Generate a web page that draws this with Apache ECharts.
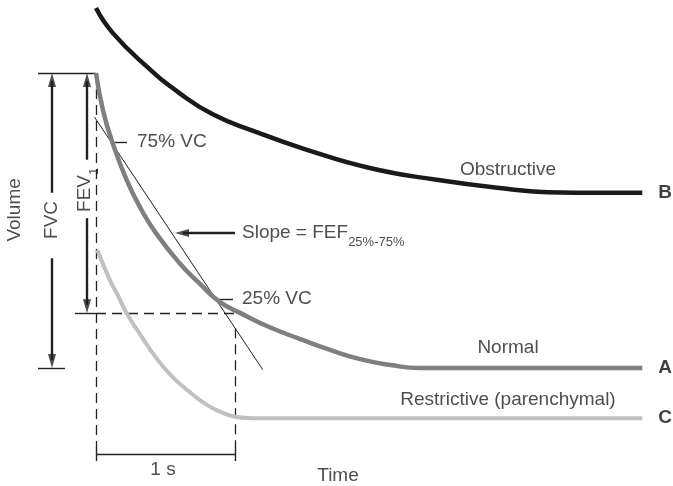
<!DOCTYPE html>
<html><head><meta charset="utf-8">
<script src="https://cdn.jsdelivr.net/npm/echarts@6/dist/echarts.min.js"></script>
<style>html,body{margin:0;padding:0;background:#fff}#c{width:673px;height:486px}</style>
</head><body><div id="c"></div>
<script>
// ---- Data (time in s, volume in L above residual level of the normal curve) ----
const normal = [[0,5.00],[0.05,4.37],[0.12,3.81],[0.22,3.19],[0.32,2.71],[0.43,2.29],[0.60,1.78],[0.75,1.42],[0.89,1.12],[1.04,0.93],[1.25,0.69],[1.47,0.49],[1.68,0.31],[1.90,0.15],[2.12,0.05],[2.33,0.0],[3.93,0.0]];
const obstructive = [[0,6.10],[0.12,5.68],[0.37,5.10],[0.60,4.66],[0.84,4.30],[1.13,4.02],[1.49,3.72],[1.97,3.39],[2.45,3.19],[2.98,3.03],[3.25,2.98],[3.63,2.97],[3.93,2.97]];
const restrictive = [[0.01,2.00],[0.10,1.49],[0.16,1.22],[0.22,0.93],[0.32,0.56],[0.44,0.15],[0.55,-0.15],[0.68,-0.42],[0.80,-0.63],[0.91,-0.76],[1.01,-0.83],[1.13,-0.85],[3.93,-0.85]];
const tangent = [[-0.01,4.25],[1.20,-0.03]];
const fvcTop = 5.0, fvcBottom = 0.0, fev1Level = 0.93, oneSecond = 1.0;
const vc75 = 3.83, vc25 = 1.17, slopeLevel = 2.29;

// ---- Layout (pixel scale of the drawing) ----
const W = 673, H = 486, X0 = 96, Y0 = 368, PXS = 139, PXL = 59;
const dx = p => p / PXS, dy = p => p / PXL;
const INK = '#222';
const FONT = 'Liberation Sans, Arial, Helvetica, sans-serif';

const tFVC = -dx(44), tFEV = -dx(9), tTickL = -dx(58);
const dashed = [
  [[0, fvcTop], [0, -dy(79)]],
  [[0, fev1Level], [oneSecond, fev1Level]],
  [[oneSecond, fev1Level - dy(15)], [oneSecond, -dy(79)]]
];
const ticks = [
  [[tTickL, fvcTop], [0, fvcTop]],
  [[tTickL, fvcBottom], [-dx(31), fvcBottom]],
  [[-dx(21), fev1Level], [0, fev1Level]],
  [[dx(19), vc75], [dx(31), vc75]],
  [[oneSecond - dx(17), vc25], [oneSecond - dx(2), vc25]],
  [[0, -dy(86)], [oneSecond, -dy(86)]],
  [[0, -dy(79)], [0, -dy(93)]],
  [[oneSecond, -dy(79)], [oneSecond, -dy(93)]]
];
const shafts = [
  [[tFVC, fvcTop - dy(8)], [tFVC, 2.97]],
  [[tFVC, 1.86], [tFVC, fvcBottom + dy(8)]],
  [[tFEV, fvcTop - dy(8)], [tFEV, 3.53]],
  [[tFEV, 2.54], [tFEV, fev1Level + dy(8)]],
  [[dx(79) + dx(8), slopeLevel], [oneSecond, slopeLevel]]
];
// arrow tips: [t, v, direction]
const tips = [
  [tFVC, fvcTop, 'up'], [tFVC, fvcBottom, 'down'],
  [tFEV, fvcTop, 'up'], [tFEV, fev1Level, 'down'],
  [dx(79), slopeLevel, 'left']
];
const AL = 14, AW = 8;
const arrowData = tips.map(([t, v, d]) => {
  if (d === 'up') return { value: [t, v - dy(AL / 2)], symbolRotate: 0 };
  if (d === 'down') return { value: [t, v + dy(AL / 2)], symbolRotate: 180 };
  return { value: [t + dx(AL / 2), v], symbolRotate: 90 };
});

const labels = [
  { txt: 'Volume', value: [-dx(81), 2.68], rotate: 90, align: 'center' },
  { txt: 'FVC', value: [tFVC, 2.51], rotate: 90, align: 'center' },
  { txt: '{m|FEV}{s|1}', value: [tFEV, 3.02], rotate: 90, align: 'center' },
  { txt: '75% VC', value: [dx(41), vc75], align: 'left' },
  { txt: '25% VC', value: [oneSecond + dx(7), vc25], align: 'left' },
  { txt: '{m|Slope = FEF}{s|25%-75%}', value: [oneSecond + dx(7), slopeLevel], align: 'left', offset: [0, 2] },
  { txt: 'Obstructive', value: [dx(412), 3.36], align: 'center' },
  { txt: 'Normal', value: [dx(412), 0.34], align: 'center' },
  { txt: 'Restrictive (parenchymal)', value: [dx(412), -0.53], align: 'center' },
  { txt: '{b|B}', value: [dx(569), 2.97], align: 'center' },
  { txt: '{b|A}', value: [dx(569), 0.0], align: 'center' },
  { txt: '{b|C}', value: [dx(569), -0.85], align: 'center' },
  { txt: '1 s', value: [dx(67), -dy(102)], align: 'center' },
  { txt: 'Time', value: [dx(242), -dy(108)], align: 'center' }
];

const segs = (list) => list.map(c => ({ coords: c }));
const chart = echarts.init(document.getElementById('c'), null, { renderer: 'canvas', width: W, height: H });
chart.setOption({
  backgroundColor: '#fff',
  animation: false,
  grid: { left: 0, right: 0, top: 0, bottom: 0 },
  xAxis: { type: 'value', min: -X0 / PXS, max: (W - X0) / PXS, show: false },
  yAxis: { type: 'value', min: (Y0 - H) / PXL, max: Y0 / PXL, show: false },
  series: [
    { type: 'lines', coordinateSystem: 'cartesian2d', silent: true, data: segs(dashed),
      lineStyle: { color: INK, width: 1.3, type: [10, 6], opacity: 1 } },
    { type: 'lines', coordinateSystem: 'cartesian2d', silent: true, data: segs(ticks),
      lineStyle: { color: INK, width: 1.4, opacity: 1 } },
    { type: 'lines', coordinateSystem: 'cartesian2d', silent: true, data: segs([tangent]),
      lineStyle: { color: INK, width: 1, opacity: 1 } },
    { type: 'lines', coordinateSystem: 'cartesian2d', silent: true, data: segs(shafts),
      lineStyle: { color: INK, width: 2.4, opacity: 1 } },
    { type: 'line', data: restrictive, smooth: 0.5, showSymbol: false, silent: true,
      lineStyle: { color: '#c0c0c0', width: 4 } },
    { type: 'line', data: normal, smooth: 0.5, showSymbol: false, silent: true,
      lineStyle: { color: '#7f7f7f', width: 4.5 } },
    { type: 'line', data: obstructive, smooth: 0.5, showSymbol: false, silent: true,
      lineStyle: { color: '#1a1a1a', width: 4.5 } },
    { type: 'scatter', data: arrowData, symbol: 'triangle', symbolSize: [AW, AL], silent: true,
      itemStyle: { color: INK } },
    { type: 'scatter', symbolSize: 0, silent: true, z: 10,
      data: labels.map(l => ({ value: l.value, txt: l.txt,
        label: { rotate: l.rotate || 0, align: l.align, offset: l.offset || [0, 0] } })),
      label: { show: true, position: 'inside', verticalAlign: 'middle', color: INK,
        fontFamily: FONT, fontSize: 19,
        formatter: p => p.data.txt,
        rich: {
          m: { fontSize: 19, fontFamily: FONT, color: INK, lineHeight: 24, verticalAlign: 'top' },
          s: { fontSize: 13, fontFamily: FONT, color: INK, lineHeight: 14, padding: [13, 0, 0, 0], verticalAlign: 'top' },
          b: { fontSize: 19, fontFamily: FONT, color: '#111', fontWeight: 'bold' }
        } } }
  ]
});
</script></body></html>
